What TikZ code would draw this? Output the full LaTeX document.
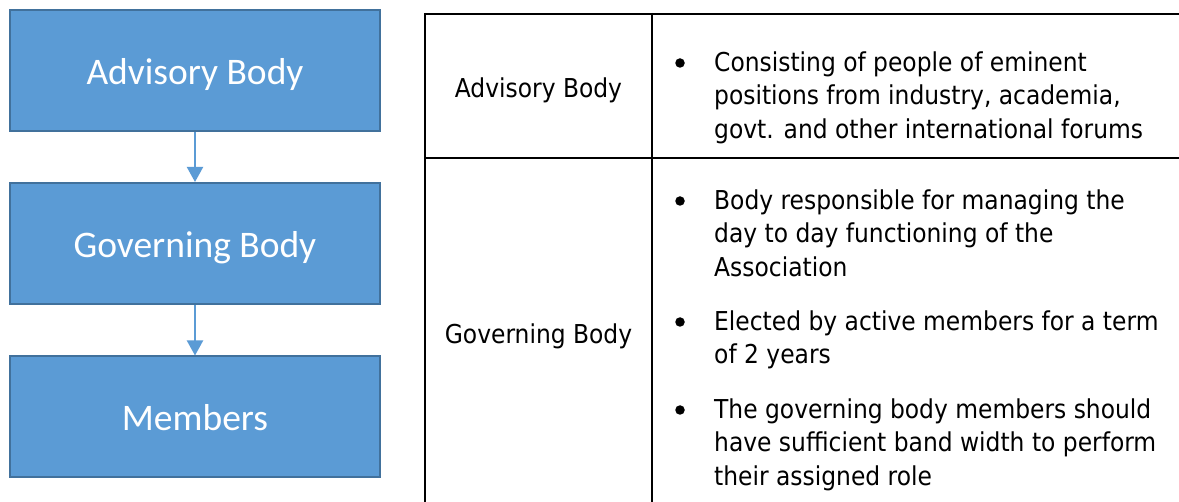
\documentclass[tikz,border=0pt]{standalone}
\usepackage{fontspec}
\setmainfont{DejaVu Sans Condensed}
\newfontfamily\boxfont{Carlito}
\usetikzlibrary{arrows.meta}
\definecolor{boxfill}{HTML}{5B9BD5}
\definecolor{boxline}{HTML}{41719C}
\definecolor{arrowc}{HTML}{5B9BD5}
\tikzset{
  flowbox/.style={draw=boxline, line width=2pt, fill=boxfill, minimum width=370pt, minimum height=121pt, inner sep=0pt, text=white, text height=28pt, text depth=0pt, font=\boxfont\fontsize{37.5}{42}\selectfont},
  flowarrow/.style={draw=arrowc, line width=2pt, -{Triangle[width=16pt,length=15pt]}},
  tabline/.style={line width=1.8pt, black},
  celltext/.style={font=\fontsize{26}{33.5}\selectfont, inner sep=0pt, text height=19pt, text depth=0pt},
  itemtext/.style={font=\fontsize{26}{33.5}\selectfont, inner sep=0pt, align=left, anchor=north west},
  bulletdot/.style={circle, fill=black, inner sep=0pt, minimum size=9.5pt}
}
\begin{document}
\begin{tikzpicture}[x=1pt,y=-1pt]
\clip (0,0) rectangle (1179,502);
\fill[white] (0,0) rectangle (1179,502);
% flow boxes
\node[flowbox] (adv) at (195,70.5) {Advisory Body};
\node[flowbox] (gov) at (195,243.5) {Governing Body};
\node[flowbox] (mem) at (195,417) {Members};
\draw[flowarrow] (adv.south) -- (gov.north);
\draw[flowarrow] (gov.south) -- (mem.north);
% table grid
\coordinate (tl) at (425,13);
\coordinate (tm) at (652,13);
\coordinate (tr) at (1190,14);
\coordinate (ml) at (424,158);
\coordinate (mr) at (1190,158);
\coordinate (bl) at (425,520);
\coordinate (bm) at (652,520);
\draw[tabline] (424,14) -- (tr);
\draw[tabline] (ml) -- (mr);
\draw[tabline] (tl) -- (bl);
\draw[tabline] (tm) -- (bm);
% left column labels
\node[celltext] (advlabel) at (538.5,88.5) {Advisory Body};
\node[celltext] (govlabel) at (538.5,334) {Governing Body};
% bullets and items
\node[bulletdot] (b1) at (680,63) {};
\node[itemtext] (i1) at (714,51.5) {Consisting of people of eminent\\positions from industry, academia,\\govt. and other international forums};
\node[bulletdot] (b2) at (680,201) {};
\node[itemtext] (i2) at (714,189.2) {Body responsible for managing the\\day to day functioning of the\\Association};
\node[bulletdot] (b3) at (680,322) {};
\node[itemtext] (i3) at (714,310.2) {Elected by active members for a term\\of 2 years};
\node[bulletdot] (b4) at (680,410) {};
\node[itemtext] (i4) at (714,398.2) {The governing body members should\\have sufficient band width to perform\\their assigned role};
\end{tikzpicture}
\end{document}
